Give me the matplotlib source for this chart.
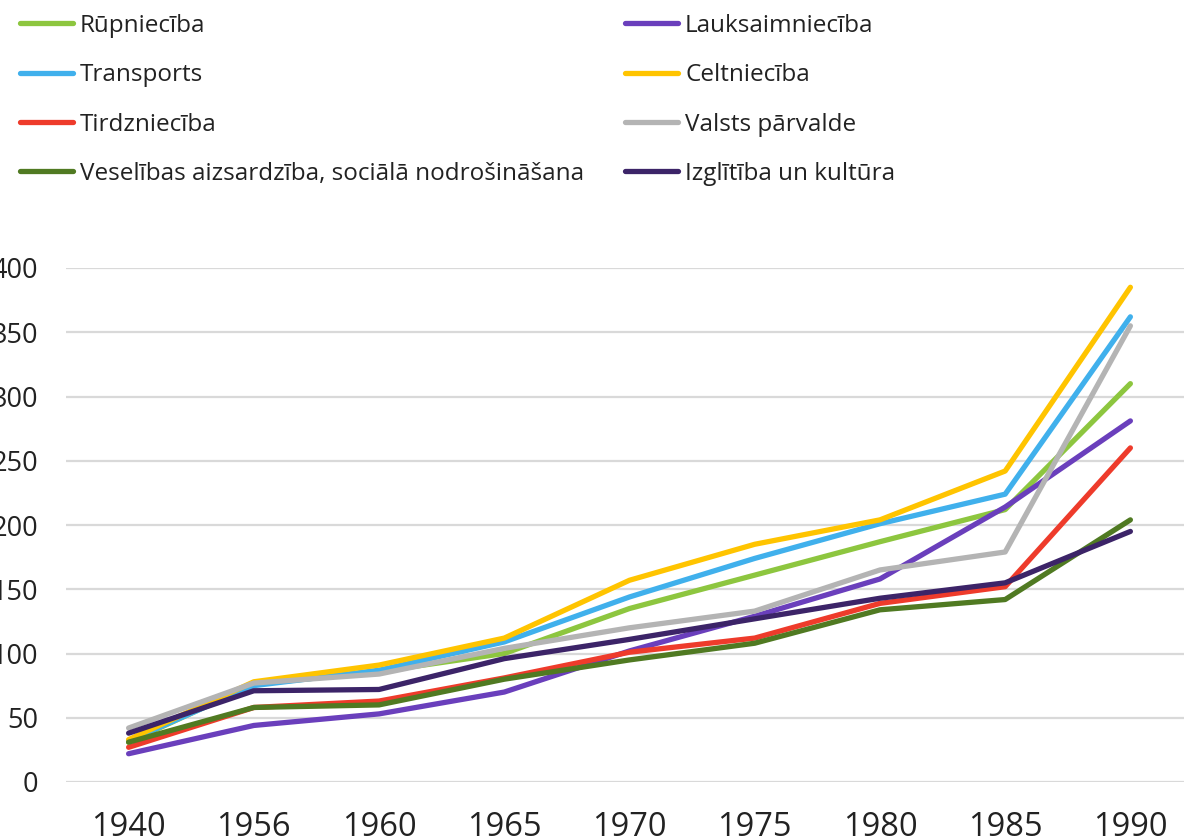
import matplotlib
matplotlib.use("Agg")
import matplotlib.pyplot as plt
import numpy as np

plt.rcParams['font.family'] = ['Open Sans', 'DejaVu Sans']

years = ['1940', '1956', '1960', '1965', '1970', '1975', '1980', '1985', '1990']

rupnieciba = [31, 76, 86, 100, 135, 161, 187, 212, 310]
lauksaimnieciba = [22, 44, 53, 70, 102, 129, 158, 214, 281]
transports = [32, 75, 87, 109, 144, 174, 201, 224, 362]
celtnieciba = [33, 78, 91, 112, 157, 185, 204, 242, 385]
tirdznieciba = [27, 58, 63, 81, 101, 112, 139, 152, 260]
valsts = [42, 77, 84, 104, 120, 133, 165, 179, 355]
veseliba = [31, 58, 60, 80, 95, 108, 134, 142, 204]
izglitiba = [38, 71, 72, 96, 111, 127, 143, 155, 195]

names = ['Rūpniecība', 'Lauksaimniecība', 'Transports', 'Celtniecība',
         'Tirdzniecība', 'Valsts pārvalde',
         'Veselības aizsardzība, sociālā nodrošināšana', 'Izglītība un kultūra']
series = [rupnieciba, lauksaimnieciba, transports, celtnieciba,
          tirdznieciba, valsts, veseliba, izglitiba]
colors = ['#8DC63F', '#6A3FBC', '#40B0EC', '#FFC400',
          '#EE3B2B', '#B4B4B4', '#507A22', '#3C2468']

fig = plt.figure(figsize=(11.84, 8.4), dpi=100)
# axes runs a bit past the right edge, like the cropped original
ax = fig.add_axes([66 / 1184, 58 / 840, 1127 / 1184, 514 / 840])

x = np.arange(len(years))
lines = []
for vals, name, c in zip(series, names, colors):
    ln, = ax.plot(x, vals, color=c, lw=3.8, solid_capstyle='round',
                  solid_joinstyle='round', label=name)
    lines.append(ln)

ax.set_xlim(-0.5, len(years) - 0.5)
ax.set_ylim(0, 400)
ax.set_yticks(np.arange(0, 401, 50))
ax.set_xticks(x)
ax.set_xticklabels(years)
ax.yaxis.grid(True, color='#D9D9D9', lw=1.6)
ax.set_axisbelow(True)
for s in ax.spines.values():
    s.set_visible(False)
ax.tick_params(axis='both', length=0, colors='#222222')
ax.tick_params(axis='y', labelsize=19.5, pad=20)
ax.tick_params(axis='x', labelsize=23.5, pad=21)

# two legend columns placed separately
left = [lines[i] for i in (0, 2, 4, 6)]
right = [lines[i] for i in (1, 3, 5, 7)]
kw = dict(frameon=False, fontsize=17.5, handlelength=2.18, handletextpad=0.29,
          labelspacing=1.04, borderaxespad=0, borderpad=0, loc='upper left')
leg1 = fig.legend(left, [l.get_label() for l in left],
                  bbox_to_anchor=(20 / 1184, 1 - 14 / 840), **kw)
leg2 = fig.legend(right, [l.get_label() for l in right],
                  bbox_to_anchor=(625 / 1184, 1 - 14 / 840), **kw)
for t in leg1.get_texts() + leg2.get_texts():
    t.set_color('#222222')

fig.savefig('out.png', dpi=100)
